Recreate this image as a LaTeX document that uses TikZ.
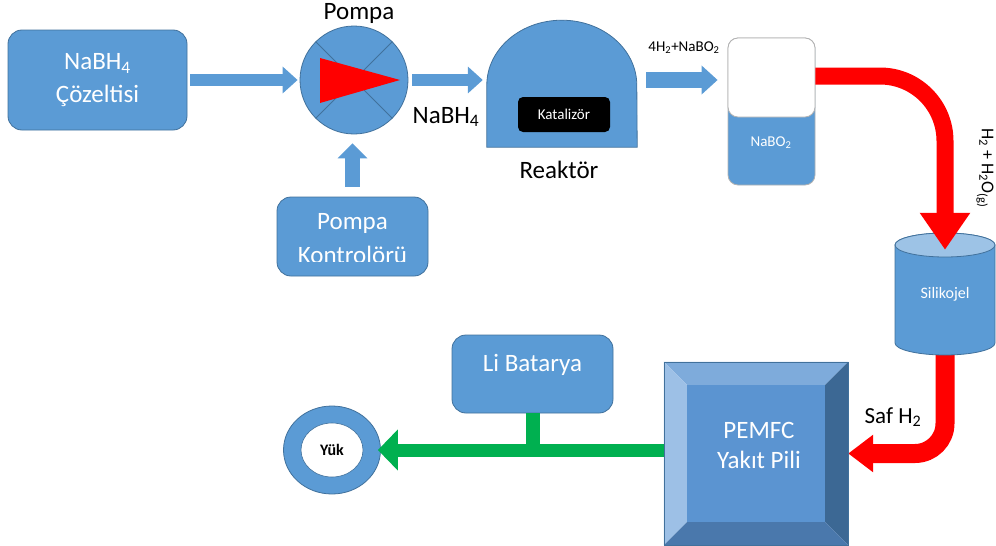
\documentclass[tikz,border=0pt]{standalone}
\usepackage{fontspec}
\setmainfont{Carlito}
\usetikzlibrary{arrows.meta,shapes.geometric}
\definecolor{cblue}{HTML}{5B9BD5}
\definecolor{cborder}{HTML}{41719C}
\definecolor{cgreen}{HTML}{00B050}
\definecolor{bvtop}{HTML}{7EABDB}
\definecolor{bvleft}{HTML}{9DC0E6}
\definecolor{bvright}{HTML}{3C6894}
\definecolor{bvbot}{HTML}{4A78AC}
\definecolor{bvface}{HTML}{5B94D1}
\definecolor{cyltop}{HTML}{9DC3E6}
\begin{document}
\begin{tikzpicture}[x=1pt,y=-1pt,
  box/.style={draw=cborder, line width=0.8pt, fill=cblue, rounded corners=14pt, inner sep=0pt, text=white, align=center},
  flow/.style={cblue, line width=12pt, -{Triangle[width=26pt,length=15pt]}},
  lbl/.style={text=black, inner sep=0pt},
  big/.style={font=\fontsize{25}{33}\selectfont},
]
\useasboundingbox (0,0) rectangle (996,546);

% NaBH4 solution
\node[box, big, minimum width=179pt, minimum height=100pt] (sol) at (97.5,80) {NaBH\textsubscript{4}\\Çözeltisi};

% pump
\node[circle, draw=cborder, line width=0.8pt, fill=cblue, minimum size=108pt, inner sep=0pt] (pump) at (354,80) {};
\draw[cborder, line width=0.8pt] (pump.135) -- (pump.-45);
\draw[cborder, line width=0.8pt] (pump.45) -- (pump.-135);
\fill[red] (320,58) -- (320,103) -- (400,80) -- cycle;
\node[lbl, big] (pumplbl) at (359,13) {Pompa};

% pump control
\node[box, minimum width=151pt, minimum height=79pt] (ctrl) at (352.5,236.5) {};
\begin{scope}
\clip (277,197) rectangle (428,261);
\node[anchor=base, inner sep=0pt, text=white, big] (ctrltxt1) at (352.5,229) {Pompa};
\node[anchor=base, inner sep=0pt, text=white, big] (ctrltxt2) at (352.5,263) {Kontrolörü};
\end{scope}

% reactor
\node[minimum width=150pt, minimum height=134pt, inner sep=0pt] (reac) at (562,80) {};
\draw[cborder, line width=0.8pt, fill=cblue] (reac.south west) -- ++(0,-62)
  arc[start angle=180, end angle=0, x radius=75pt, y radius=65pt]
  -- (reac.south east) -- cycle;
\node[fill=black, rounded corners=5pt, minimum width=92pt, minimum height=35pt, inner sep=0pt, text=white, font=\fontsize{15}{17}\selectfont] (kat) at (564,114.5) {Katalizör};
\node[lbl, big] (reaclbl) at (559,170) {Reaktör};

% NaBO2 tank
\node[draw=gray!60, line width=0.8pt, fill=cblue, rounded corners=10pt, minimum width=87pt, minimum height=147pt, inner sep=0pt] (nabo) at (771.5,111.5) {};
\node[draw=gray!60, line width=0.8pt, fill=white, rounded corners=10pt, minimum width=87pt, minimum height=79pt, inner sep=0pt, anchor=north] (nabotop) at (nabo.north) {};
\node[text=white, inner sep=0pt, font=\fontsize{15}{17}\selectfont] (nabotxt) at (771,143) {NaBO\textsubscript{2}};
\node[lbl, font=\fontsize{15}{18}\selectfont] (gaslbl) at (684,48) {4H\textsubscript{2}+NaBO\textsubscript{2}};

% flow arrows (blue)
\draw[flow, shorten <=3pt, shorten >=2pt] (sol) -- (pump);
\draw[flow, shorten <=4pt, shorten >=4pt] (pump.east) -- (reac.west);
\node[lbl, big] (nablbl) at (446,117) {NaBH\textsubscript{4}};
\draw[flow, line width=15pt, -{Triangle[width=29pt,length=15pt]}, shorten <=10pt, shorten >=9pt] (ctrl.north) -- (ctrl.north |- pump.south);
\draw[flow, line width=16pt, -{Triangle[width=28pt,length=16pt]}, shorten <=9pt, shorten >=10pt] (reac.east) -- (reac.east -| nabo.west);

% silica gel and PEMFC
\node[minimum width=100pt, minimum height=122pt, inner sep=0pt] (sil) at (945,294) {};
\node[minimum width=184pt, minimum height=183pt, inner sep=0pt] (pem) at (756,453.5) {};

% red arrow silica -> PEMFC (below cylinder)
\draw[red, line width=19pt, rounded corners=30pt, -{Triangle[width=36pt,length=25pt]}] ([yshift=6pt]sil.south) |- (pem.east);
\node[lbl, font=\fontsize{23}{26}\selectfont] (saflbl) at (893,417) {Saf H\textsubscript{2}};

% cylinder
\draw[cborder, line width=0.8pt, fill=cblue] (895,245) -- (895,343)
  arc[start angle=180, end angle=360, x radius=50pt, y radius=12pt]
  -- (995,245)
  arc[start angle=0, end angle=180, x radius=50pt, y radius=12pt] -- cycle;
\draw[cborder, line width=0.8pt, fill=cyltop] (945,245) ellipse[x radius=50pt, y radius=12pt];
\node[text=white, inner sep=0pt, font=\fontsize{16}{18}\selectfont] (siltxt) at (sil) {Silikojel};

% red arrow NaBO2 -> silica
\draw[red, line width=17pt, rounded corners=65pt, -{Triangle[width=48pt,length=37pt]}] ([yshift=35.5pt]nabo.east) -| ([yshift=-17pt]sil.north);
\node[lbl, rotate=-90, font=\fontsize{18}{20}\selectfont] (h2lbl) at (985,168) {H\textsubscript{2} + H\textsubscript{2}O\textsubscript{(g)}};

% PEMFC bevel box
\fill[bvtop] (pem.north west) -- (pem.north east) -- ([shift={(-23pt,-23pt)}]pem.north east) -- ([shift={(23pt,-23pt)}]pem.north west) -- cycle;
\fill[bvleft] (pem.north west) -- ([shift={(23pt,-23pt)}]pem.north west) -- ([shift={(23pt,23pt)}]pem.south west) -- (pem.south west) -- cycle;
\fill[bvright] (pem.north east) -- ([shift={(-23pt,-23pt)}]pem.north east) -- ([shift={(-23pt,23pt)}]pem.south east) -- (pem.south east) -- cycle;
\fill[bvbot] (pem.south west) -- ([shift={(23pt,23pt)}]pem.south west) -- ([shift={(-23pt,23pt)}]pem.south east) -- (pem.south east) -- cycle;
\fill[bvface] ([shift={(23pt,-23pt)}]pem.north west) rectangle ([shift={(-23pt,23pt)}]pem.south east);
\draw[cborder, line width=0.6pt] (pem.north west) rectangle (pem.south east);
\node[text=white, align=center, inner sep=0pt, font=\fontsize{25}{30}\selectfont] (pemtxt) at ([xshift=3pt,yshift=8pt]pem.center) {PEMFC\\Yakıt Pili};

% Li battery and load
\node[box, minimum width=161pt, minimum height=78pt] (li) at (532.5,374) {};
\node[text=white, inner sep=0pt, big] (litxt) at ([yshift=9pt]li.center) {Li Batarya};
\node[ellipse, draw=cborder, line width=0.8pt, fill=cblue, minimum width=97pt, minimum height=88pt, inner sep=0pt] (yuk) at (332,450) {};
\node[ellipse, draw=cborder, line width=0.6pt, fill=white, minimum width=62pt, minimum height=54pt, inner sep=0pt, font=\fontsize{16}{18}\selectfont\bfseries] (yukin) at (yuk) {Yük};

% green power lines
\draw[cgreen, line width=14pt] (li.south) -- (li.south |- yuk.east);
\draw[cgreen, line width=13pt, -{Triangle[width=40pt,length=20pt]}, shorten >=-3pt] (pem.west |- yuk.east) -- (yuk.east);
\end{tikzpicture}
\end{document}
